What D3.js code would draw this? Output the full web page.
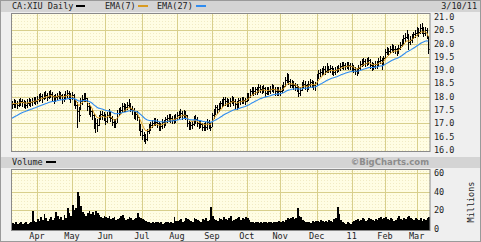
<!DOCTYPE html>
<html>
<head>
<meta charset="utf-8">
<style>
  body { margin: 0; background: #fff; }
  svg { display: block; }
  text { font-family: "DejaVu Sans Mono", monospace; font-size: 8.5px; fill: #222; }
</style>
</head>
<body>
<svg width="481" height="242"></svg>
<script src="https://d3js.org/d3.v7.min.js"></script>
<script>
// CA:XIU daily, 3/11/10 - 3/10/11 (one entry per trading day)
let closes = [
  17.72,17.78,17.75,17.70,17.82,17.85,17.80,17.76,17.70,17.78,17.84,17.80,17.86,17.90,17.86,
  17.92,17.98,18.02,17.95,18.05,18.08,18.00,18.10,18.12,18.02,17.90,17.98,18.04,18.10,18.06,17.92,17.98,18.08,18.14,18.05,17.95,
  18.05,17.80,17.70,17.45,17.30,17.85,17.90,18.05,17.95,17.65,17.55,17.45,17.30,16.95,17.00,16.95,17.15,17.35,17.30,17.28,
  17.10,17.30,17.40,17.20,17.05,16.98,17.00,17.40,17.45,17.50,17.65,17.62,17.60,17.70,17.72,17.55,17.50,17.30,17.35,17.25,16.85,16.70,
  16.55,16.45,16.40,16.70,16.85,16.95,17.00,17.10,17.05,17.02,16.85,16.90,17.05,16.98,17.15,17.20,17.25,17.20,17.12,17.18,17.22,
  17.30,17.35,17.40,17.30,17.38,17.30,17.00,16.92,16.95,16.98,17.15,17.18,17.00,16.95,16.98,16.85,16.90,16.88,17.05,16.95,16.88,
  17.30,17.45,17.60,17.55,17.65,17.75,17.78,17.90,17.85,17.82,17.78,17.85,17.92,17.85,17.72,17.65,17.88,17.85,17.90,17.88,17.85,
  18.05,18.00,18.20,18.25,18.20,18.28,18.25,18.35,18.30,18.28,18.32,18.15,18.25,18.22,18.30,18.35,18.30,18.20,18.25,18.22,
  18.20,18.35,18.40,18.65,18.70,18.60,18.45,18.50,18.45,18.35,18.38,18.15,18.25,18.45,18.50,18.45,18.30,18.50,18.55,18.50,18.45,18.40,
  18.75,18.90,18.92,18.95,19.05,18.98,19.10,19.05,19.08,19.00,18.95,19.00,19.05,19.10,19.15,19.20,19.18,19.15,19.20,19.18,19.15,
  19.10,19.05,18.98,18.95,19.10,19.25,19.30,19.35,19.28,19.35,19.38,19.20,19.10,19.15,19.25,19.20,19.35,19.40,19.20,19.45,
  19.70,19.75,19.72,19.80,19.85,19.80,19.78,19.70,19.85,19.95,20.05,20.20,20.25,20.35,20.05,20.15,20.25,20.35,20.40,
  20.50,20.45,20.60,20.55,20.40,20.50,20.30,19.80
];
let highs = [
  17.85,17.90,17.89,17.85,17.93,17.97,17.93,17.89,17.85,17.90,17.95,17.93,17.97,18.01,17.99,
  18.03,18.10,18.15,18.09,18.17,18.20,18.15,18.21,18.25,18.19,18.07,18.10,18.15,18.21,18.19,18.09,18.10,18.20,18.27,18.21,18.13,
  18.17,18.10,17.90,17.80,17.60,17.97,18.05,18.15,18.13,17.95,17.75,17.67,17.55,17.35,17.20,17.15,17.30,17.47,17.47,17.43,
  17.35,17.43,17.53,17.47,17.27,17.17,17.15,17.50,17.57,17.61,17.75,17.77,17.73,17.81,17.90,17.75,17.67,17.57,17.47,17.45,17.25,16.97,
  16.80,16.67,16.60,16.80,16.97,17.05,17.13,17.20,17.20,17.17,17.07,17.03,17.15,17.13,17.25,17.33,17.37,17.35,17.27,17.30,17.35,
  17.43,17.47,17.53,17.47,17.49,17.45,17.30,17.10,17.07,17.10,17.27,17.30,17.25,17.10,17.10,17.03,17.03,17.05,17.15,17.13,17.03,
  17.40,17.55,17.70,17.70,17.75,17.85,17.90,18.00,18.00,17.95,17.93,17.95,18.03,18.00,17.90,17.83,17.97,17.97,18.01,18.00,17.97,
  18.15,18.15,18.30,18.37,18.35,18.37,18.37,18.47,18.45,18.41,18.45,18.35,18.35,18.37,18.41,18.47,18.43,18.35,18.35,18.37,
  18.35,18.45,18.55,18.75,18.90,18.85,18.67,18.63,18.60,18.53,18.50,18.40,18.37,18.55,18.63,18.60,18.47,18.60,18.67,18.65,18.60,18.55,
  18.85,19.00,19.05,19.07,19.15,19.15,19.27,19.17,19.20,19.15,19.10,19.13,19.17,19.20,19.27,19.30,19.30,19.27,19.32,19.30,19.27,
  19.27,19.20,19.13,19.10,19.20,19.35,19.43,19.47,19.43,19.47,19.50,19.43,19.30,19.27,19.35,19.35,19.45,19.53,19.47,19.55,
  19.80,19.87,19.85,19.90,19.97,19.93,19.90,19.85,19.95,20.07,20.17,20.33,20.40,20.50,20.35,20.27,20.35,20.45,20.53,
  20.63,20.60,20.73,20.78,20.63,20.63,20.57,20.28
];
let lows = [
  17.57,17.63,17.61,17.57,17.65,17.71,17.67,17.63,17.57,17.63,17.70,17.67,17.71,17.77,17.73,
  17.77,17.83,17.89,17.81,17.91,17.95,17.87,17.97,17.99,17.89,17.77,17.83,17.90,17.97,17.91,17.77,17.83,17.93,18.00,17.91,17.81,
  17.90,17.70,17.57,16.88,17.10,17.55,17.73,17.85,17.83,17.50,17.37,17.27,17.17,16.83,16.68,16.73,16.93,17.15,17.17,17.13,
  16.97,17.07,17.23,17.10,16.95,16.87,16.85,17.05,17.30,17.35,17.47,17.47,17.45,17.55,17.60,17.45,17.37,17.20,17.17,17.13,16.75,16.55,
  16.40,16.33,16.25,16.37,16.63,16.77,16.85,16.93,16.93,16.87,16.77,16.75,16.83,16.85,16.95,17.05,17.10,17.05,17.00,17.03,17.07,
  17.15,17.20,17.25,17.17,17.23,17.17,16.90,16.80,16.80,16.83,16.95,17.03,16.90,16.83,16.85,16.77,16.77,16.75,16.80,16.83,16.75,
  16.90,17.20,17.37,17.40,17.47,17.57,17.63,17.70,17.70,17.67,17.65,17.67,17.75,17.70,17.57,17.53,17.60,17.73,17.75,17.75,17.73,
  17.83,17.87,18.00,18.10,18.07,18.10,18.10,18.17,18.17,18.15,18.17,18.03,18.10,18.10,18.15,18.20,18.17,18.05,18.07,18.05,
  18.05,18.17,18.27,18.40,18.55,18.47,18.35,18.37,18.30,18.25,18.20,18.02,18.07,18.25,18.37,18.30,18.20,18.30,18.40,18.37,18.30,18.25,
  18.45,18.70,18.80,18.83,18.87,18.85,18.93,18.93,18.95,18.87,18.83,18.87,18.93,18.97,19.00,19.07,19.05,19.03,19.07,19.05,19.03,
  19.00,18.93,18.87,18.83,18.90,19.05,19.17,19.20,19.15,19.20,19.25,19.10,19.00,19.03,19.10,19.07,19.15,19.27,19.05,19.20,
  19.45,19.60,19.57,19.65,19.73,19.67,19.63,19.57,19.65,19.80,19.90,20.00,20.10,20.20,19.80,19.97,20.07,20.20,20.25,
  20.33,20.30,20.40,20.40,20.27,20.33,20.20,19.65
];
// volume, millions
let volumes = [
  6,5,7,5,6,8,5,6,7,5,6,7,19,9,8,
  11,9,13,10,16,12,9,11,13,10,12,18,14,11,13,10,15,12,23,17,14,
  26,20,22,40,35,25,18,16,14,17,19,16,18,15,19,17,15,13,12,14,
  13,12,14,11,12,13,10,11,12,14,15,12,10,11,13,12,10,11,12,17,13,12,
  11,10,9,8,7,6,7,6,8,7,6,7,5,6,7,8,6,7,6,13,9,
  9,10,11,8,9,12,11,10,9,8,12,11,10,9,8,11,10,12,9,10,24,
  14,11,10,9,12,11,10,13,11,10,12,14,9,10,11,12,13,10,12,11,13,
  12,10,8,7,6,7,8,6,7,6,7,8,6,7,8,6,7,8,7,9,
  8,9,7,10,12,11,12,13,11,12,22,14,13,10,9,8,7,8,6,9,8,9,
  9,8,10,9,8,9,8,10,9,8,11,12,24,16,10,8,6,5,7,6,5,
  8,9,10,11,9,10,12,11,9,10,12,11,10,9,11,10,12,13,11,12,
  13,11,10,12,11,9,10,12,14,11,10,12,11,13,14,12,11,10,12,
  11,10,12,9,11,10,12,13
];
// first trading day of each month (index into the arrays above)
let monthIdx = [15, 36, 56, 78, 99, 120, 141, 161, 183, 204, 224, 243];
let monthLabels = ["Apr", "May", "Jun", "Jul", "Aug", "Sep", "Oct", "Nov", "Dec", "11", "Feb", "Mar"];
let priceTicks = [16.0, 16.5, 17.0, 17.5, 18.0, 18.5, 19.0, 19.5, 20.0, 20.5, 21.0];
let volTicks = [0, 20, 40, 60];
let ema7Start = 17.74, ema27Start = 17.15;

let svg = d3.select("svg");

// dotted paper behind the plots
let defs = svg.append("defs");
let pat = defs.append("pattern").attr("id", "paper")
  .attr("width", 3).attr("height", 3).attr("patternUnits", "userSpaceOnUse");
pat.append("rect").attr("width", 3).attr("height", 3).attr("fill", "#fffde3");
pat.append("rect").attr("width", 1).attr("height", 1).attr("fill", "#f1ebc4");

// background / frame
svg.append("rect").attr("width", 481).attr("height", 242).attr("fill", "#efefef");
svg.append("rect").attr("x", 0.5).attr("y", 0.5).attr("width", 480).attr("height", 241)
  .attr("fill", "none").attr("stroke", "#9a9a9a");
svg.append("rect").attr("x", 1).attr("y", 1).attr("width", 479).attr("height", 11).attr("fill", "#d4d4d4");
svg.append("rect").attr("x", 1).attr("y", 157).attr("width", 479).attr("height", 11).attr("fill", "#d4d4d4");

let x = d3.scaleLinear().domain([0, 251]).range([12, 430]);
let yP = d3.scaleLinear().domain([16, 21]).range([150, 17]);
let yV = d3.scaleLinear().domain([0, 60]).range([229, 173]);

let grid = "#d8cf8c";

// plot areas
let panels = [{ y0: 14, y1: 151 }, { y0: 170, y1: 230 }];
panels.forEach(p => {
  svg.append("rect").attr("x", 12).attr("y", p.y0).attr("width", 418).attr("height", p.y1 - p.y0)
    .attr("fill", "url(#paper)");
});

// month grid lines
panels.forEach(p => {
  svg.append("g").selectAll("line").data(monthIdx).join("line")
    .attr("x1", d => Math.round(x(d)) + 0.5).attr("x2", d => Math.round(x(d)) + 0.5)
    .attr("y1", p.y0).attr("y2", p.y1)
    .attr("stroke", grid).attr("stroke-width", 1);
});

svg.append("g").selectAll("line").data(priceTicks.filter(d => d > 16 && d < 21)).join("line")
  .attr("x1", 12).attr("x2", 430)
  .attr("y1", d => Math.round(yP(d)) + 0.5).attr("y2", d => Math.round(yP(d)) + 0.5)
  .attr("stroke", grid);

svg.append("g").selectAll("line").data(volTicks.filter(d => d > 0)).join("line")
  .attr("x1", 12).attr("x2", 430)
  .attr("y1", d => Math.round(yV(d)) + 0.5).attr("y2", d => Math.round(yV(d)) + 0.5)
  .attr("stroke", grid);

// price bars
let bars = svg.append("g").attr("shape-rendering", "crispEdges");
bars.selectAll("line.hl").data(closes).join("line")
  .attr("class", "hl")
  .attr("x1", (d, i) => Math.round(x(i)) + 0.5).attr("x2", (d, i) => Math.round(x(i)) + 0.5)
  .attr("y1", (d, i) => yP(highs[i])).attr("y2", (d, i) => yP(lows[i]) + 1)
  .attr("stroke", "#000");
bars.selectAll("line.cl").data(closes).join("line")
  .attr("class", "cl")
  .attr("x1", (d, i) => Math.round(x(i)) + 1).attr("x2", (d, i) => Math.round(x(i)) + 2)
  .attr("y1", d => Math.round(yP(d)) + 0.5).attr("y2", d => Math.round(yP(d)) + 0.5)
  .attr("stroke", "#000");

// moving averages
function ema(values, n, start) {
  let k = 2 / (n + 1), e = start;
  return values.map(v => (e = e + k * (v - e)));
}
let ema7 = ema(closes, 7, ema7Start);
let ema27 = ema(closes, 27, ema27Start);

let line = d3.line().x((d, i) => x(i)).y(d => yP(d));
svg.append("path").datum(ema7).attr("d", line)
  .attr("fill", "none").attr("stroke", "#d89a20").attr("stroke-width", 1);
svg.append("path").datum(ema27).attr("d", line)
  .attr("fill", "none").attr("stroke", "#2f8cf0").attr("stroke-width", 1.1);

// volume
svg.append("g").attr("shape-rendering", "crispEdges")
  .selectAll("rect").data(volumes).join("rect")
  .attr("x", (d, i) => x(i)).attr("width", 1.8)
  .attr("y", d => yV(d)).attr("height", d => yV(0) - yV(d) + 1)
  .attr("fill", "#000");

// panel borders
panels.forEach(p => {
  svg.append("rect").attr("x", 11.5).attr("y", p.y0 - 0.5).attr("width", 418.5).attr("height", p.y1 - p.y0 + 1)
    .attr("fill", "none").attr("stroke", "#8a8a8a");
});

// axis labels
svg.append("g").selectAll("text").data(priceTicks).join("text")
  .attr("x", 434).attr("y", d => yP(d)).attr("dy", "0.35em")
  .text(d => d3.format(".1f")(d));
svg.append("g").selectAll("text").data(volTicks).join("text")
  .attr("x", 434).attr("y", d => yV(d)).attr("dy", "0.35em")
  .text(d => d);
svg.append("g").selectAll("text").data(monthIdx).join("text")
  .attr("x", d => x(d)).attr("y", 236).attr("dy", "0.35em").attr("text-anchor", "middle")
  .text((d, i) => monthLabels[i]);
svg.append("text").attr("transform", "translate(471,202) rotate(-90)")
  .attr("text-anchor", "middle").attr("dy", "0.35em").text("Millions");

// header legend
svg.append("text").attr("x", 12).attr("y", 6.5).attr("dy", "0.35em").text("CA:XIU Daily");
svg.append("rect").attr("x", 76).attr("y", 5).attr("width", 9).attr("height", 2).attr("fill", "#000");
svg.append("text").attr("x", 105).attr("y", 6.5).attr("dy", "0.35em").text("EMA(7)");
svg.append("rect").attr("x", 138).attr("y", 5).attr("width", 10).attr("height", 2).attr("fill", "#d89a20");
svg.append("text").attr("x", 157).attr("y", 6.5).attr("dy", "0.35em").text("EMA(27)");
svg.append("rect").attr("x", 196).attr("y", 5).attr("width", 10).attr("height", 2).attr("fill", "#2f8cf0");
svg.append("text").attr("x", 477).attr("y", 6.5).attr("dy", "0.35em").attr("text-anchor", "end").text("3/10/11");

svg.append("text").attr("x", 12).attr("y", 162.5).attr("dy", "0.35em").text("Volume");
svg.append("rect").attr("x", 46).attr("y", 161).attr("width", 10).attr("height", 2).attr("fill", "#000");
svg.append("text").attr("x", 429).attr("y", 162.5).attr("dy", "0.35em").attr("text-anchor", "end")
  .style("font-family", "'DejaVu Sans', sans-serif").style("font-weight", "bold").style("font-size", "8.5px")
  .style("fill", "#8c8c8c").text("©BigCharts.com");
</script>
</body>
</html>
